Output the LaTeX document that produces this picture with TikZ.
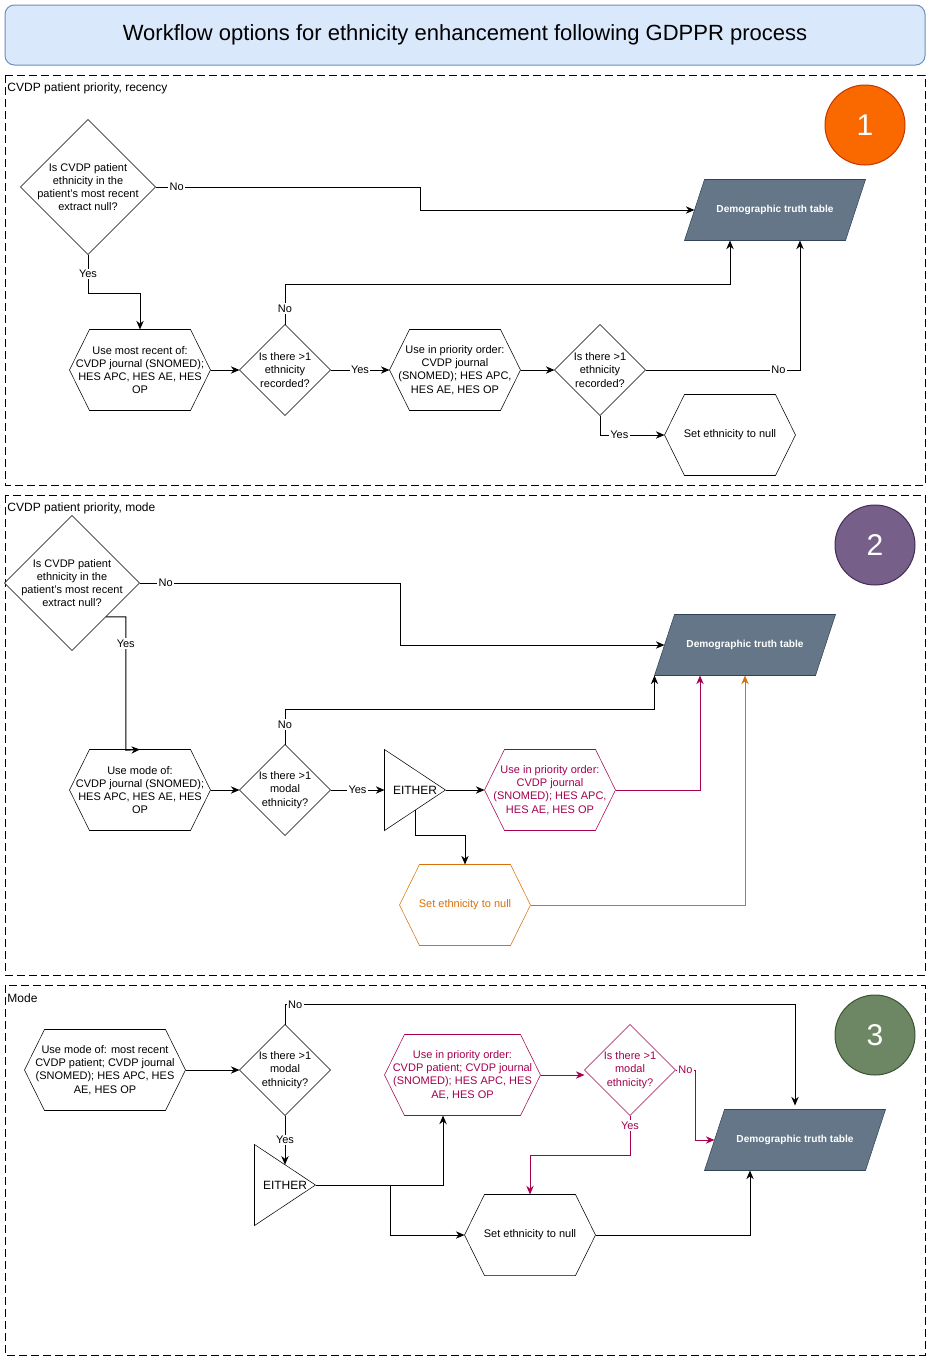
\documentclass[tikz,border=0pt]{standalone}
\usepackage{fontspec}
\setmainfont{Liberation Sans}
\usetikzlibrary{arrows.meta,calc,backgrounds}
\definecolor{magc}{RGB}{165,0,80}
\definecolor{orgc}{HTML}{D97008}
\definecolor{titleF}{HTML}{DAE8FC}
\definecolor{titleD}{HTML}{6C8EBF}
\definecolor{tabF}{HTML}{647687}
\definecolor{tabD}{HTML}{314354}
\definecolor{cAF}{HTML}{FA6800}\definecolor{cAD}{HTML}{C73500}
\definecolor{cBF}{HTML}{76608A}\definecolor{cBD}{HTML}{432D57}
\definecolor{cCF}{HTML}{6D8764}\definecolor{cCD}{HTML}{3A5431}
\newcommand{\fsm}{\fontsize{8.25}{9.9}\selectfont}
\newcommand{\hexdraw}[2][black]{\draw[draw=#1, fill=white] ([xshift=15pt]#2.north west) -- ([xshift=-15pt]#2.north east) -- (#2.east) -- ([xshift=-15pt]#2.south east) -- ([xshift=15pt]#2.south west) -- (#2.west) -- cycle;}
\newcommand{\diadraw}[2][black]{\draw[draw=#1, fill=white] (#2.north) -- (#2.east) -- (#2.south) -- (#2.west) -- cycle;}
\newcommand{\tabshape}[1]{\draw[draw=tabD, fill=tabF] ([xshift=15pt]#1.north west) -- (#1.north east) -- ([xshift=-15pt]#1.south east) -- (#1.south west) -- cycle;}
\newcommand{\tridraw}[1]{\draw[fill=white] (#1.north west) -- (#1.east) -- (#1.south west) -- cycle;}
\begin{document}
\begin{tikzpicture}[x=0.75pt,y=-0.75pt, line width=0.75pt,
  every node/.style={inner sep=0pt},
  box/.style={align=center, font=\fsm},
  bigdia/.style={box, minimum width=100.5pt, minimum height=100.5pt},
  smalldia/.style={box, minimum width=67.5pt, minimum height=67.5pt},
  hexA/.style={box, minimum width=105pt, minimum height=60pt},
  hexB/.style={box, minimum width=97.5pt, minimum height=60pt},
  tabnode/.style={box, minimum width=135pt, minimum height=45pt, text=white, font=\fontsize{7.6}{9}\selectfont\bfseries},
  tri/.style={minimum width=45pt, minimum height=60pt, font=\fontsize{9}{11}\selectfont},
  lab/.style={fill=white, inner sep=1pt, font=\fsm},
  arr/.style={-{Stealth[length=6.5pt,width=5.5pt]}},
  secbox/.style={dash pattern=on 6pt off 3pt},
  seclab/.style={anchor=west, font=\fontsize{9}{11}\selectfont},
  num/.style={circle, minimum size=60pt, text=white, font=\fontsize{22.5}{27}\selectfont}]
\useasboundingbox (0,0) rectangle (931,1361);

\node[draw=titleD, fill=titleF, rounded corners=7pt, minimum width=690pt, minimum height=45pt, font=\fontsize{16.5}{19}\selectfont] (title) at (465,35) {Workflow options for ethnicity enhancement following GDPPR process};

% section labels and numbers
\node[seclab] (s1) at (7,88) {CVDP patient priority, recency};
\node[seclab] (s2) at (7,508) {CVDP patient priority, mode};
\node[seclab] (s3) at (7,998) {Mode};
\node[num, draw=cAD, fill=cAF] (n1) at (865,125) {1};
\node[num, draw=cBD, fill=cBF] (n2) at (875,545) {2};
\node[num, draw=cCD, fill=cCF] (n3) at (875,1035) {3};

% ---------- section 1
\node[bigdia] (d1) at (88,187) {Is CVDP patient\\ethnicity in the\\patient's most recent\\extract null?};
\node[tabnode] (t1) at (775,210) {Demographic truth table};
\node[hexA] (h1) at (140,370) {Use most recent of:\\CVDP journal (SNOMED);\\HES APC, HES AE, HES\\OP};
\node[smalldia] (d2) at (285,370) {Is there >1\\ethnicity\\recorded?};
\node[hexB] (h2) at (455,370) {Use in priority order:\\CVDP journal\\(SNOMED); HES APC,\\HES AE, HES OP};
\node[smalldia] (d3) at (600,370) {Is there >1\\ethnicity\\recorded?};
\node[hexB] (h3) at (730,435) {Set ethnicity to null};

% ---------- section 2
\node[bigdia] (d4) at (72,583) {Is CVDP patient\\ethnicity in the\\patient's most recent\\extract null?};
\node[tabnode] (t2) at (745,645) {Demographic truth table};
\node[hexA] (h4) at (140,790) {Use mode of:\\CVDP journal (SNOMED);\\HES APC, HES AE, HES\\OP};
\node[smalldia] (d5) at (285,790) {Is there >1\\modal\\ethnicity?};
\node[tri] (e1) at (415,790) {EITHER};
\node[hexB, text=magc] (h5) at (550,790) {Use in priority order:\\CVDP journal\\(SNOMED); HES APC,\\HES AE, HES OP};
\node[hexB, text=orgc] (h6) at (465,905) {Set ethnicity to null};

% ---------- section 3
\node[box, minimum width=120pt, minimum height=60pt] (h7) at (105,1070) {Use mode of: most recent\\CVDP patient; CVDP journal\\(SNOMED); HES APC, HES\\AE, HES OP};
\node[smalldia] (d6) at (285,1070) {Is there >1\\modal\\ethnicity?};
\node[tabnode] (t3) at (795,1140) {Demographic truth table};
\node[tri] (e2) at (285,1185) {EITHER};
\node[box, minimum width=116.25pt, minimum height=60pt, text=magc] (h8) at (462.5,1075) {Use in priority order:\\CVDP patient; CVDP journal\\(SNOMED); HES APC, HES\\AE, HES OP};
\node[smalldia, text=magc] (d7) at (630,1070) {Is there >1\\modal\\ethnicity?};
\node[hexB] (h9) at (530,1235) {Set ethnicity to null};

\begin{scope}[on background layer]
  \draw[secbox] (5,75) rectangle (925,485);
  \draw[secbox] (5,495) rectangle (925,975);
  \draw[secbox] (5,985) rectangle (925,1355);
  \diadraw{d1} \tabshape{t1} \hexdraw{h1} \diadraw{d2} \hexdraw{h2} \diadraw{d3} \hexdraw{h3}
  \diadraw{d4} \tabshape{t2} \hexdraw{h4} \diadraw{d5} \tridraw{e1} \hexdraw[magc]{h5} \hexdraw[orgc]{h6}
  \hexdraw{h7} \diadraw{d6} \tabshape{t3} \tridraw{e2} \hexdraw[magc]{h8} \diadraw[magc]{d7} \hexdraw{h9}
\end{scope}

% ---------- edges section 1
\draw[arr] (d1.east) -- node[lab, pos=0.08]{No} ++(265,0) |- ([xshift=7.5pt]t1.west);
\draw[arr] (d1.south) -- node[lab]{Yes} ++(0,39) -| (h1.north);
\draw[arr] (h1.east) -- (d2.west);
\draw[arr] (d2.north) -- node[lab, pos=0.4]{No} ++(0,-40) -| ([xshift=-33.75pt]t1.south);
\draw[arr] (d2.east) -- node[lab]{Yes} (h2.west);
\draw[arr] (h2.east) -- (d3.west);
\draw[arr] (d3.east) -| node[lab, pos=0.43]{No} ([xshift=18.75pt]t1.south);
\draw[arr] (d3.south) |- node[lab, pos=0.65]{Yes} (h3.west);

% ---------- edges section 2
\draw[arr] (d4.east) -- node[lab, pos=0.1]{No} ++(261,0) |- ([xshift=7.5pt]t2.west);
\draw[arr] ($(d4.east)!0.5!(d4.south)$) -- ++(20,0) -- node[lab, pos=0.2]{Yes} ++(0,133.5) -- (h4.north);
\draw[arr] (h4.east) -- (d5.west);
\draw[arr] (d5.north) -- node[lab, pos=0.57]{No} ++(0,-35) -| (t2.south west);
\draw[arr] (d5.east) -- node[lab]{Yes} (e1.west);
\draw[arr] (e1.east) -- (h5.west);
\draw[arr, draw=magc] (h5.east) -| ([xshift=-33.75pt]t2.south);
\draw[arr] ($(e1.south west)!0.5!(e1.east)$) -- ++(0,25) -| (h6.north);
\draw[arr, draw=orgc] (h6.east) -| (t2.south);

% ---------- edges section 3
\draw[arr] (h7.east) -- (d6.west);
\draw[arr] (d6.north) -- ++(0,-20) -| node[lab, pos=0.01]{No} ([yshift=3pt]t3.north);
\draw[arr] (d6.south) -- node[lab]{Yes} ($(e2.north west)!0.5!(e2.east)$);
\draw[arr] (e2.east) -| ([xshift=-14.6pt]h8.south);
\draw[arr] (e2.east) -- ++(75,0) |- (h9.west);
\draw[arr, draw=magc] (h8.east) -- (h8.east -| d7.west);
\draw[arr, draw=magc] (d7.east) -- node[lab, text=magc]{No} ++(20,0) |- ([xshift=7.5pt]t3.west);
\draw[arr, draw=magc] (d7.south) -- node[lab, text=magc, pos=0.25]{Yes} ++(0,40) -| (h9.north);
\draw[arr] (h9.east) -| ([xshift=-33.75pt]t3.south);
\end{tikzpicture}
\end{document}
